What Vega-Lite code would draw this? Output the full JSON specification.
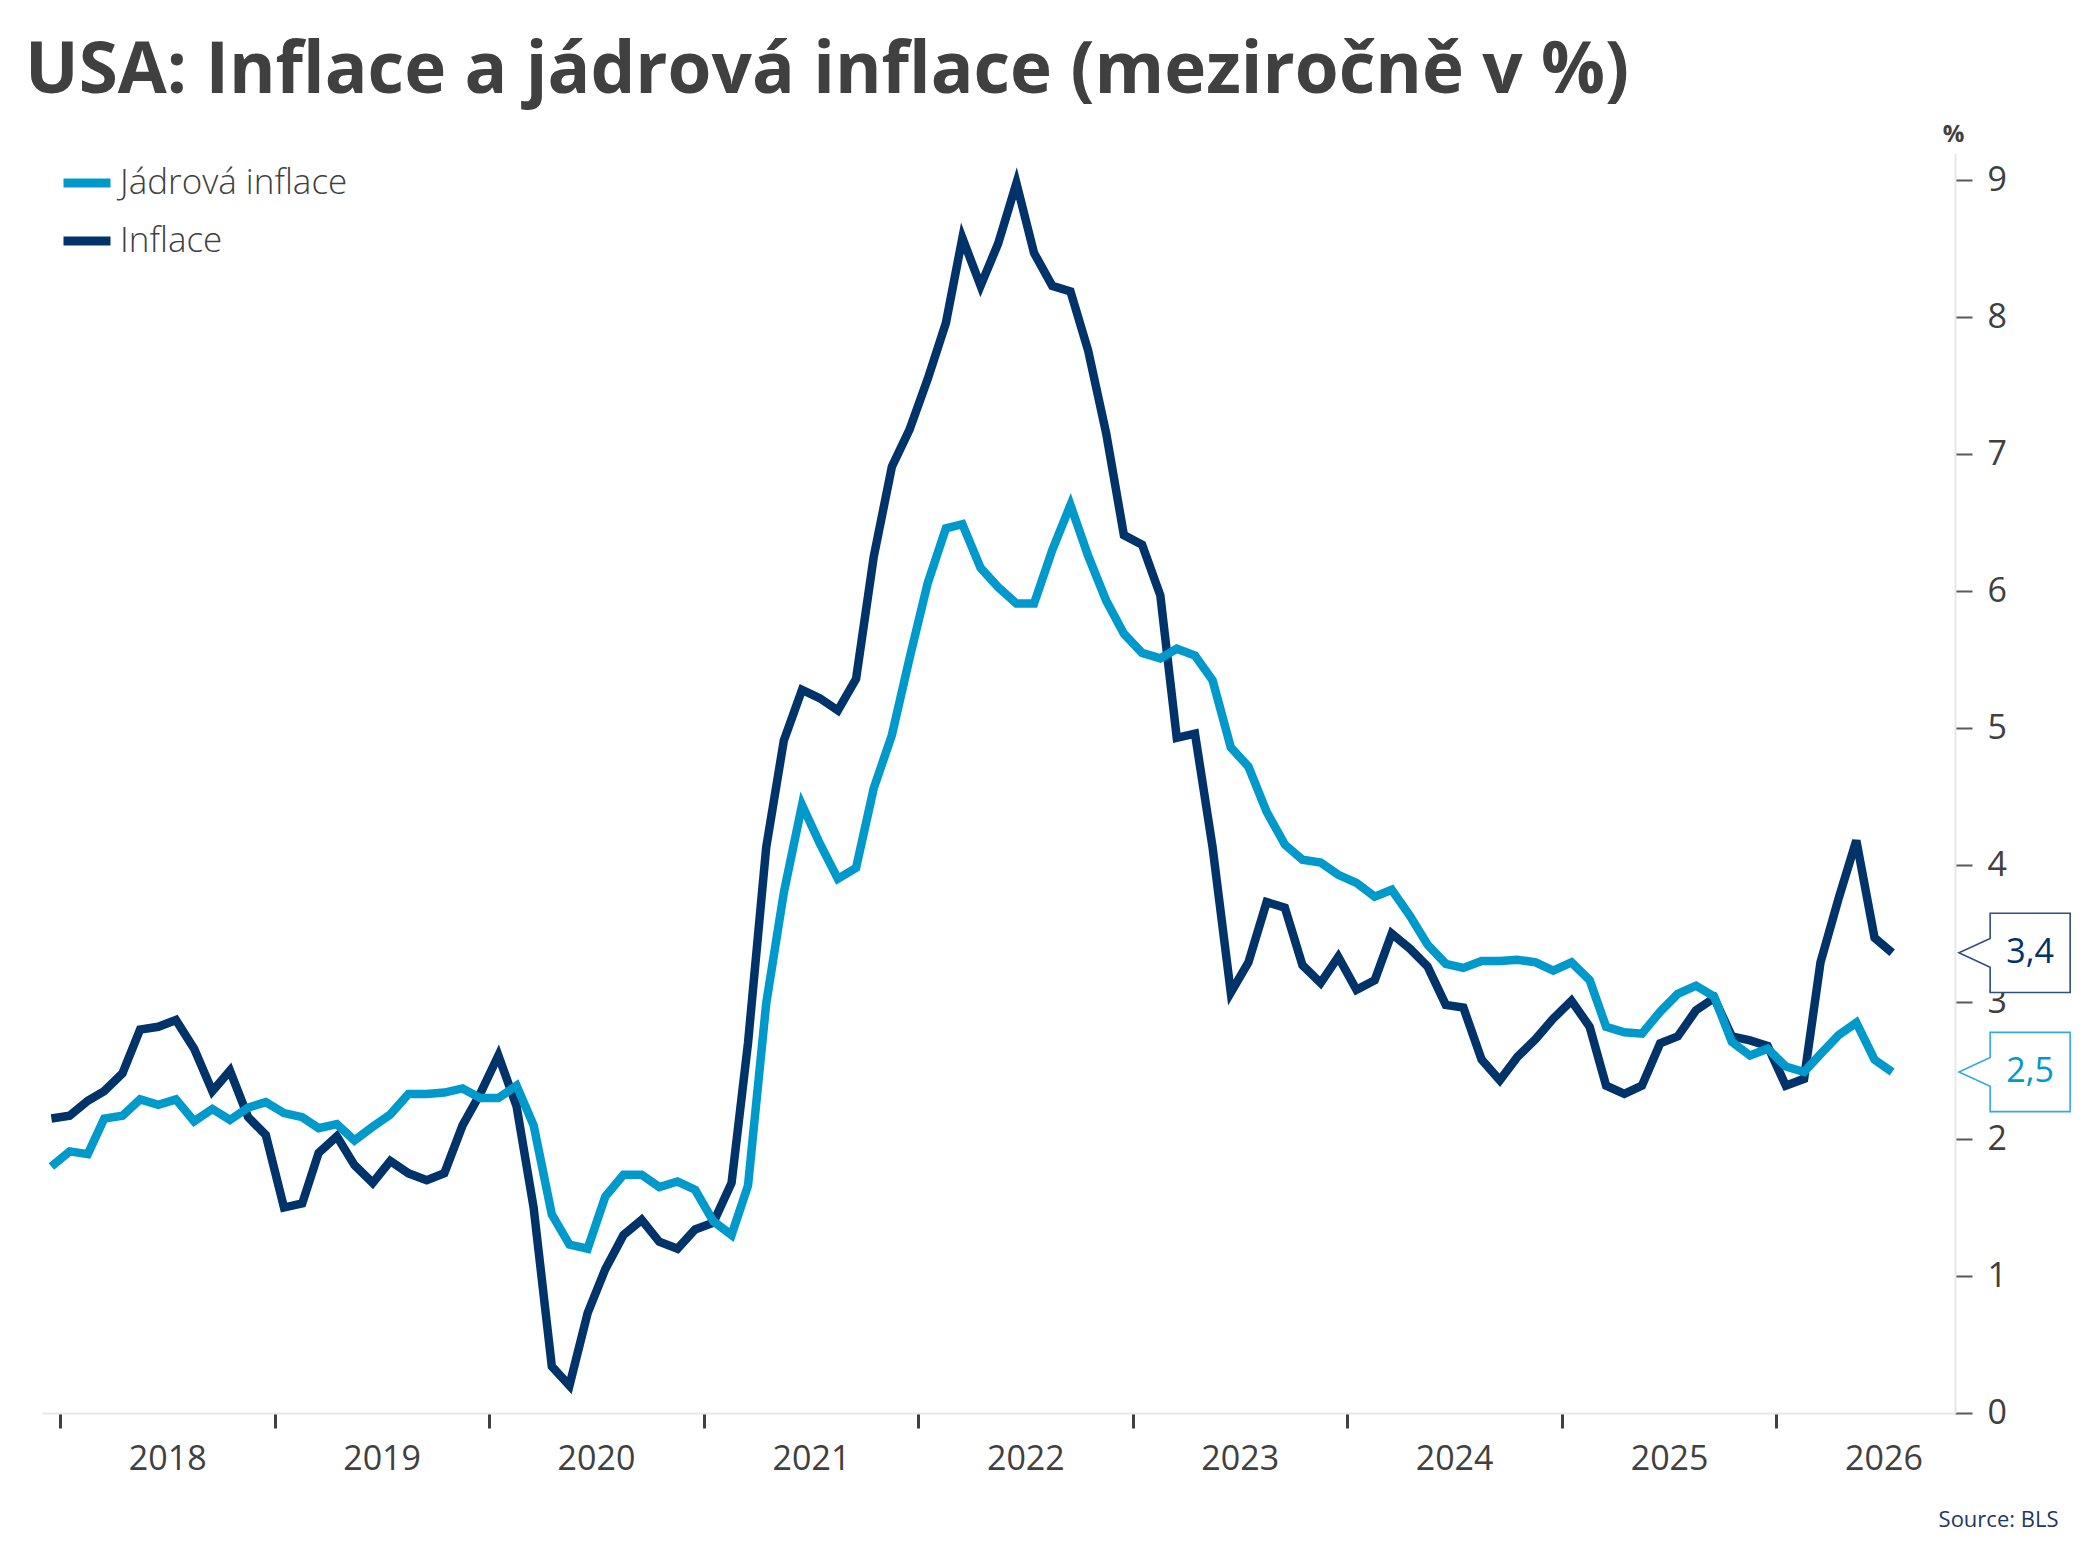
{
  "$schema": "https://vega.github.io/schema/vega-lite/v6.json",
  "width": 1913,
  "height": 1260,
  "autosize": "none",
  "padding": {"left": 42, "top": 153, "right": 138, "bottom": 155},
  "background": "#ffffff",
  "title": {
    "text": "USA: Inflace a jádrová inflace (meziročně v %)",
    "anchor": "start",
    "frame": "group",
    "font": "Open Sans",
    "fontSize": 71,
    "fontWeight": "bold",
    "color": "#404040",
    "baseline": "alphabetic",
    "offset": 29,
    "dx": -17,
    "dy": 71
  },
  "data": {
    "format": {"parse": {"date": "utc:'%Y-%m-%d'"}},
    "values": [
      {"date": "2017-12-17", "core": 1.80, "cpi": 2.15},
      {"date": "2018-01-17", "core": 1.91, "cpi": 2.17},
      {"date": "2018-02-17", "core": 1.89, "cpi": 2.28},
      {"date": "2018-03-17", "core": 2.15, "cpi": 2.35},
      {"date": "2018-04-17", "core": 2.17, "cpi": 2.48},
      {"date": "2018-05-17", "core": 2.29, "cpi": 2.80},
      {"date": "2018-06-17", "core": 2.25, "cpi": 2.82},
      {"date": "2018-07-17", "core": 2.29, "cpi": 2.87},
      {"date": "2018-08-17", "core": 2.13, "cpi": 2.66},
      {"date": "2018-09-17", "core": 2.22, "cpi": 2.35},
      {"date": "2018-10-17", "core": 2.14, "cpi": 2.50},
      {"date": "2018-11-17", "core": 2.23, "cpi": 2.16},
      {"date": "2018-12-17", "core": 2.27, "cpi": 2.03},
      {"date": "2019-01-17", "core": 2.19, "cpi": 1.50},
      {"date": "2019-02-17", "core": 2.16, "cpi": 1.53},
      {"date": "2019-03-17", "core": 2.08, "cpi": 1.90},
      {"date": "2019-04-17", "core": 2.11, "cpi": 2.02},
      {"date": "2019-05-17", "core": 1.99, "cpi": 1.81},
      {"date": "2019-06-17", "core": 2.09, "cpi": 1.68},
      {"date": "2019-07-17", "core": 2.18, "cpi": 1.84},
      {"date": "2019-08-17", "core": 2.33, "cpi": 1.75},
      {"date": "2019-09-17", "core": 2.33, "cpi": 1.70},
      {"date": "2019-10-17", "core": 2.34, "cpi": 1.75},
      {"date": "2019-11-17", "core": 2.37, "cpi": 2.10},
      {"date": "2019-12-17", "core": 2.30, "cpi": 2.33},
      {"date": "2020-01-17", "core": 2.30, "cpi": 2.61},
      {"date": "2020-02-17", "core": 2.39, "cpi": 2.24},
      {"date": "2020-03-17", "core": 2.10, "cpi": 1.50},
      {"date": "2020-04-17", "core": 1.45, "cpi": 0.34},
      {"date": "2020-05-17", "core": 1.23, "cpi": 0.20},
      {"date": "2020-06-17", "core": 1.20, "cpi": 0.73},
      {"date": "2020-07-17", "core": 1.58, "cpi": 1.05},
      {"date": "2020-08-17", "core": 1.74, "cpi": 1.30},
      {"date": "2020-09-17", "core": 1.74, "cpi": 1.41},
      {"date": "2020-10-17", "core": 1.65, "cpi": 1.25},
      {"date": "2020-11-17", "core": 1.69, "cpi": 1.20},
      {"date": "2020-12-17", "core": 1.63, "cpi": 1.34},
      {"date": "2021-01-17", "core": 1.40, "cpi": 1.39},
      {"date": "2021-02-17", "core": 1.30, "cpi": 1.68},
      {"date": "2021-03-17", "core": 1.66, "cpi": 2.70},
      {"date": "2021-04-17", "core": 2.99, "cpi": 4.13},
      {"date": "2021-05-17", "core": 3.80, "cpi": 4.91},
      {"date": "2021-06-17", "core": 4.44, "cpi": 5.28},
      {"date": "2021-07-17", "core": 4.16, "cpi": 5.22},
      {"date": "2021-08-17", "core": 3.90, "cpi": 5.13},
      {"date": "2021-09-17", "core": 3.98, "cpi": 5.36},
      {"date": "2021-10-17", "core": 4.56, "cpi": 6.25},
      {"date": "2021-11-17", "core": 4.95, "cpi": 6.91},
      {"date": "2021-12-17", "core": 5.51, "cpi": 7.18},
      {"date": "2022-01-17", "core": 6.06, "cpi": 7.55},
      {"date": "2022-02-17", "core": 6.46, "cpi": 7.96},
      {"date": "2022-03-17", "core": 6.49, "cpi": 8.58},
      {"date": "2022-04-17", "core": 6.17, "cpi": 8.23},
      {"date": "2022-05-17", "core": 6.03, "cpi": 8.54},
      {"date": "2022-06-17", "core": 5.91, "cpi": 8.98},
      {"date": "2022-07-17", "core": 5.91, "cpi": 8.47},
      {"date": "2022-08-17", "core": 6.30, "cpi": 8.23},
      {"date": "2022-09-17", "core": 6.63, "cpi": 8.19},
      {"date": "2022-10-17", "core": 6.26, "cpi": 7.76},
      {"date": "2022-11-17", "core": 5.93, "cpi": 7.15},
      {"date": "2022-12-17", "core": 5.69, "cpi": 6.41},
      {"date": "2023-01-17", "core": 5.55, "cpi": 6.34},
      {"date": "2023-02-17", "core": 5.51, "cpi": 5.97},
      {"date": "2023-03-17", "core": 5.58, "cpi": 4.93},
      {"date": "2023-04-17", "core": 5.53, "cpi": 4.96},
      {"date": "2023-05-17", "core": 5.35, "cpi": 4.13},
      {"date": "2023-06-17", "core": 4.86, "cpi": 3.07},
      {"date": "2023-07-17", "core": 4.72, "cpi": 3.29},
      {"date": "2023-08-17", "core": 4.39, "cpi": 3.73},
      {"date": "2023-09-17", "core": 4.15, "cpi": 3.69},
      {"date": "2023-10-17", "core": 4.04, "cpi": 3.27},
      {"date": "2023-11-17", "core": 4.02, "cpi": 3.14},
      {"date": "2023-12-17", "core": 3.93, "cpi": 3.33},
      {"date": "2024-01-17", "core": 3.87, "cpi": 3.09},
      {"date": "2024-02-17", "core": 3.77, "cpi": 3.16},
      {"date": "2024-03-17", "core": 3.82, "cpi": 3.50},
      {"date": "2024-04-17", "core": 3.63, "cpi": 3.39},
      {"date": "2024-05-17", "core": 3.42, "cpi": 3.26},
      {"date": "2024-06-17", "core": 3.28, "cpi": 2.98},
      {"date": "2024-07-17", "core": 3.25, "cpi": 2.96},
      {"date": "2024-08-17", "core": 3.30, "cpi": 2.58},
      {"date": "2024-09-17", "core": 3.30, "cpi": 2.43},
      {"date": "2024-10-17", "core": 3.31, "cpi": 2.60},
      {"date": "2024-11-17", "core": 3.29, "cpi": 2.73},
      {"date": "2024-12-17", "core": 3.23, "cpi": 2.88},
      {"date": "2025-01-17", "core": 3.29, "cpi": 3.01},
      {"date": "2025-02-17", "core": 3.16, "cpi": 2.82},
      {"date": "2025-03-17", "core": 2.82, "cpi": 2.39},
      {"date": "2025-04-17", "core": 2.78, "cpi": 2.33},
      {"date": "2025-05-17", "core": 2.77, "cpi": 2.39},
      {"date": "2025-06-17", "core": 2.93, "cpi": 2.70},
      {"date": "2025-07-17", "core": 3.06, "cpi": 2.75},
      {"date": "2025-08-17", "core": 3.12, "cpi": 2.94},
      {"date": "2025-09-17", "core": 3.04, "cpi": 3.03},
      {"date": "2025-10-17", "core": 2.71, "cpi": 2.75},
      {"date": "2025-11-17", "core": 2.61, "cpi": 2.72},
      {"date": "2025-12-17", "core": 2.66, "cpi": 2.68},
      {"date": "2026-01-17", "core": 2.53, "cpi": 2.39},
      {"date": "2026-02-17", "core": 2.49, "cpi": 2.44},
      {"date": "2026-03-17", "core": 2.62, "cpi": 3.29},
      {"date": "2026-04-17", "core": 2.76, "cpi": 3.76},
      {"date": "2026-05-17", "core": 2.85, "cpi": 4.18},
      {"date": "2026-06-17", "core": 2.58, "cpi": 3.47},
      {"date": "2026-07-17", "core": 2.49, "cpi": 3.36}
    ]
  },
  "transform": [
    {"fold": ["core", "cpi"], "as": ["key", "value"]}
  ],
  "encoding": {
    "x": {
      "field": "date",
      "type": "temporal",
      "scale": {
        "type": "utc",
        "domain": [
          {"year": 2017, "month": 12, "date": 1, "utc": true},
          {"year": 2026, "month": 11, "date": 1, "utc": true}
        ]
      },
      "axis": {
        "title": "Source: BLS",
        "titleX": 2016,
        "titleY": 113,
        "titleAlign": "right",
        "titleBaseline": "alphabetic",
        "titleFont": "Open Sans",
        "titleFontSize": 22,
        "titleFontWeight": "normal",
        "titleColor": "#1f3864",
        "values": [
          {"year": 2018, "month": 1, "date": 1, "utc": true},
          {"year": 2019, "month": 1, "date": 1, "utc": true},
          {"year": 2020, "month": 1, "date": 1, "utc": true},
          {"year": 2021, "month": 1, "date": 1, "utc": true},
          {"year": 2022, "month": 1, "date": 1, "utc": true},
          {"year": 2023, "month": 1, "date": 1, "utc": true},
          {"year": 2024, "month": 1, "date": 1, "utc": true},
          {"year": 2025, "month": 1, "date": 1, "utc": true},
          {"year": 2026, "month": 1, "date": 1, "utc": true}
        ],
        "format": "%Y",
        "labelOffset": 107,
        "labelFlush": false,
        "labelOverlap": false,
        "labelBound": false,
        "labelBaseline": "alphabetic",
        "labelPadding": 41,
        "labelFont": "Open Sans",
        "labelFontSize": 34,
        "labelColor": "#404040",
        "tickSize": 15,
        "tickWidth": 3,
        "tickColor": "#404040",
        "domainColor": "#e8e8e8",
        "domainWidth": 2,
        "grid": false
      }
    },
    "y": {
      "field": "value",
      "type": "quantitative",
      "scale": {"domain": [0, 9.2], "nice": false, "zero": true},
      "axis": {
        "orient": "right",
        "title": "%",
        "titleAngle": 0,
        "titleX": -2,
        "titleY": -12,
        "titleAlign": "center",
        "titleBaseline": "alphabetic",
        "titleFont": "Open Sans",
        "titleFontSize": 24,
        "titleFontWeight": "bold",
        "titleColor": "#404040",
        "values": [0, 1, 2, 3, 4, 5, 6, 7, 8, 9],
        "labelFont": "Open Sans",
        "labelFontSize": 34,
        "labelColor": "#404040",
        "labelPadding": 15,
        "tickSize": 17,
        "tickWidth": 2,
        "tickColor": "#595959",
        "domainColor": "#e8e8e8",
        "domainWidth": 2,
        "grid": false
      }
    }
  },
  "layer": [
    {
      "transform": [{"filter": "datum.key == 'cpi'"}],
      "mark": {"type": "line", "strokeWidth": 8.5},
      "encoding": {
        "color": {
          "field": "key",
          "type": "nominal",
          "scale": {"domain": ["core", "cpi"], "range": ["#0099cc", "#00336a"]},
          "legend": {
            "orient": "none",
            "legendX": 17,
            "legendY": 2,
            "title": null,
            "padding": 0,
            "symbolType": "stroke",
            "symbolSize": 2209,
            "symbolStrokeWidth": 9,
            "labelFont": "Open Sans",
            "labelFontSize": 35,
            "labelFontWeight": 300,
            "labelColor": "#404040",
            "labelOffset": 5,
            "labelLimit": 600,
            "rowPadding": 12,
            "labelExpr": "datum.label == 'core' ? 'Jádrová inflace' : 'Inflace'"
          }
        }
      }
    },
    {
      "transform": [{"filter": "datum.key == 'core'"}],
      "mark": {"type": "line", "strokeWidth": 8.5},
      "encoding": {
        "color": {"field": "key", "type": "nominal"}
      }
    },
    {
      "transform": [{"filter": "utcyear(datum.date) == 2026 && utcmonth(datum.date) == 6"}],
      "mark": {
        "type": "point",
        "shape": "M -1 -0.99 L 1 -0.99 L 1 0.99 L -1 0.99 L -1 0.36 L -1.78 0 L -1 -0.36 Z",
        "size": 6400,
        "fill": "#ffffff",
        "fillOpacity": 1,
        "opacity": 1,
        "strokeWidth": 1.6,
        "xOffset": 138
      },
      "encoding": {
        "stroke": {
          "field": "key",
          "type": "nominal",
          "scale": {"domain": ["core", "cpi"], "range": ["#33aadd", "#2f4f7f"]},
          "legend": null
        }
      }
    },
    {
      "transform": [{"filter": "utcyear(datum.date) == 2026 && utcmonth(datum.date) == 6"}],
      "mark": {
        "type": "text",
        "font": "Open Sans",
        "fontSize": 34,
        "align": "center",
        "baseline": "middle",
        "xOffset": 138
      },
      "encoding": {
        "text": {"field": "value", "type": "quantitative", "format": ".1f"},
        "fill": {
          "field": "key",
          "type": "nominal",
          "scale": {"domain": ["core", "cpi"], "range": ["#0099cc", "#00336a"]},
          "legend": null
        }
      }
    }
  ],
  "resolve": {"scale": {"color": "shared"}},
  "config": {
    "view": {"stroke": null},
    "locale": {
      "number": {"decimal": ",", "thousands": " ", "grouping": [3], "currency": ["", " Kč"]}
    }
  }
}
